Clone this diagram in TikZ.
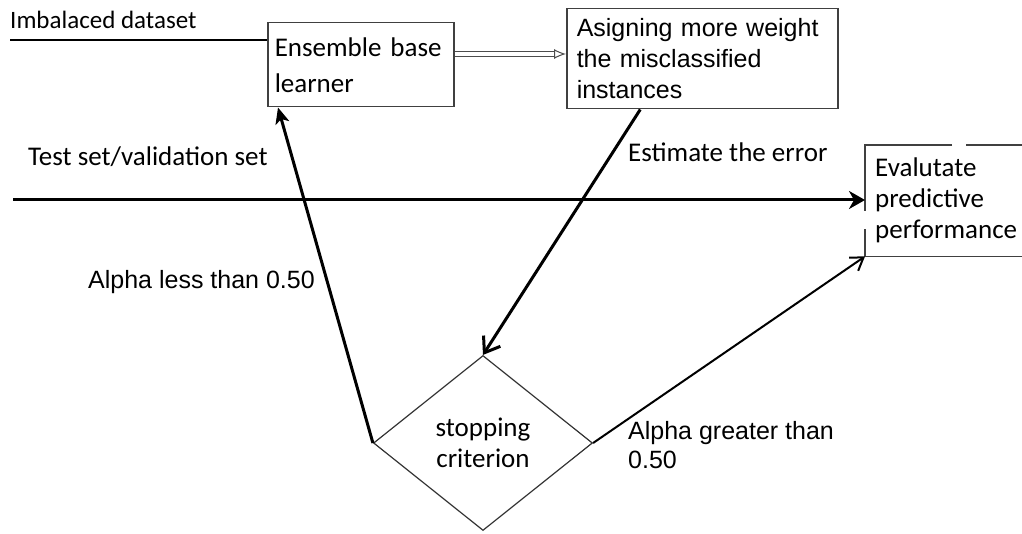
\documentclass[tikz,border=0pt]{standalone}
\usepackage{fontspec}
\setmainfont{Carlito}
\newfontfamily\arialfont{Liberation Sans}
\usetikzlibrary{arrows.meta,shapes.geometric,calc}
\tikzset{
  cal/.style={font=\fontsize{27}{31}\selectfont},
  ari/.style={font=\arialfont\fontsize{25}{29}\selectfont},
  boxnode/.style={draw=black!75, line width=1.5pt, inner ysep=4pt, align=left},
  lbl/.style={inner sep=0pt, align=left},
  thickarrow/.style={line width=3pt},
}
\begin{document}
\begin{tikzpicture}[x=1pt,y=-1pt]
\useasboundingbox (0,0) rectangle (1022,534);

% boxes
\node[boxnode, inner xsep=7pt, text width=172pt, minimum height=84pt, anchor=north west, font=\fontsize{27}{36}\selectfont] (box1) at (267,22) {Ensemble base\\ learner};
\node[boxnode, inner xsep=10pt, text width=251pt, minimum height=100pt, anchor=north west, font=\arialfont\fontsize{25}{31}\selectfont] (box2) at (566,8) {Asigning more weight\\the misclassified\\instances};
\node[cal, lbl, inner xsep=10pt, text width=150pt, minimum height=111pt, anchor=north west] (box3) at (865,145) {Evalutate\\predictive\\performance};
\draw[black!75, line width=1.5pt] ($(box3.north west)+(87,0)$) -- (box3.north west) -- ($(box3.north west)+(0,66)$);
\draw[black!75, line width=1.5pt] ($(box3.north west)+(101,0)$) -- (box3.north east);
\draw[black!75, line width=1.5pt] ($(box3.south west)+(0,-27)$) -- (box3.south west) -- (box3.south east);

% diamond
\node[diamond, draw=black!80, line width=1.2pt, minimum width=219pt, minimum height=175pt, inner sep=0pt, cal, align=center] (dia) at (483,443) {stopping\\criterion};

% labels
\node[cal, lbl, anchor=west, font=\fontsize{25}{29}\selectfont] (limb) at (10,20) {Imbalaced dataset};
\node[cal, lbl, anchor=west] (ltest) at (28,157) {Test set/validation set};
\node[cal, lbl, anchor=west] (lest) at (628,152) {Estimate the error};
\node[ari, lbl, anchor=west] (lless) at (88,282) {Alpha less than 0.50};
\node[ari, lbl, anchor=north west] (lgreat) at (628,421) {Alpha greater than\\0.50};

% connectors
\coordinate (imb) at (10,40);
\draw[line width=1.2pt] (imb) -- (imb -| box1.west);

\coordinate (dbl) at (0,54);
\draw[black!70, line width=1pt, double=white, double distance=3.5pt, -{Latex[open,length=12pt,width=10pt]}] (dbl -| box1.east) -- (dbl -| box2.west);

\coordinate (tst) at (13,200);
\draw[thickarrow, -{Stealth[length=16pt,width=18pt,inset=5pt]}] (tst) -- (tst -| box3.west);

\draw[thickarrow, -{Straight Barb[length=14pt,width=20pt]}] ([xshift=-62pt]box2.south) -- (dia.north);

\draw[thickarrow, -{Stealth[length=16pt,width=14pt,inset=4pt]}] (dia.west) -- ([xshift=11pt]box1.south west);

\draw[line width=2pt, -{Straight Barb[length=12pt,width=16pt]}] (dia.east) -- (box3.south west);

\end{tikzpicture}
\end{document}
